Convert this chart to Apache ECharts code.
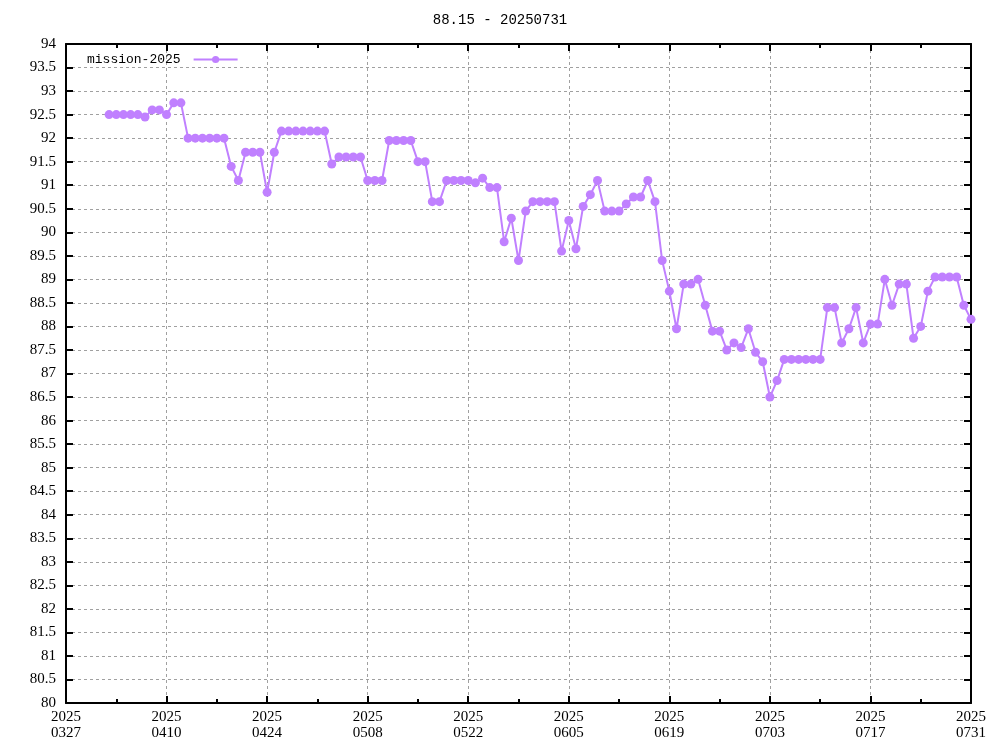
<!DOCTYPE html>
<html>
<head>
<meta charset="utf-8">
<script src="https://cdn.jsdelivr.net/npm/echarts@6/dist/echarts.min.js"></script>
<style>html,body{margin:0;padding:0;background:#fff}#c{width:1000px;height:750px}</style>
</head>
<body>
<div id="c"></div>
<script>
const titleText = '88.15 - 20250731';
const seriesName = 'mission-2025';
const axisStart = '2025-03-27';
const axisEnd = '2025-07-31';
const firstDate = '2025-04-02';
const values = [
  92.5, 92.5, 92.5, 92.5, 92.5, 92.45, 92.6, 92.6, 92.5, 92.75, 92.75,
  92.0, 92.0, 92.0, 92.0, 92.0, 92.0, 91.4, 91.1, 91.7, 91.7, 91.7, 90.85, 91.7,
  92.15, 92.15, 92.15, 92.15, 92.15, 92.15, 92.15, 91.45, 91.6, 91.6, 91.6, 91.6,
  91.1, 91.1, 91.1, 91.95, 91.95, 91.95, 91.95, 91.5, 91.5, 90.65, 90.65,
  91.1, 91.1, 91.1, 91.1, 91.05, 91.15, 90.95, 90.95, 89.8, 90.3, 89.4, 90.45,
  90.65, 90.65, 90.65, 90.65, 89.6, 90.25, 89.65, 90.55, 90.8, 91.1,
  90.45, 90.45, 90.45, 90.6, 90.75, 90.75, 91.1, 90.65, 89.4, 88.75, 87.95,
  88.9, 88.9, 89.0, 88.45, 87.9, 87.9, 87.5, 87.65, 87.55, 87.95, 87.45, 87.25,
  86.5, 86.85, 87.3, 87.3, 87.3, 87.3, 87.3, 87.3, 88.4, 88.4, 87.65, 87.95,
  88.4, 87.65, 88.05, 88.05, 89.0, 88.45, 88.9, 88.9, 87.75, 88.0, 88.75,
  89.05, 89.05, 89.05, 89.05, 88.45, 88.15
];
const yMin = 80, yMax = 94, yStep = 0.5;
const xStepDays = 14;

const DAY = 86400000;
const t0 = Date.parse(axisStart + 'T00:00:00Z');
const tEnd = Date.parse(axisEnd + 'T00:00:00Z');
const tFirst = Date.parse(firstDate + 'T00:00:00Z');
const startIdx = Math.round((tFirst - t0) / DAY);
const data = values.map((v, i) => [startIdx + i, v]);
const spanDays = Math.round((tEnd - t0) / DAY);

function dayLabel(d) {
  const dt = new Date(t0 + d * DAY);
  const y = dt.getUTCFullYear();
  const m = String(dt.getUTCMonth() + 1).padStart(2, '0');
  const dd = String(dt.getUTCDate()).padStart(2, '0');
  return y + '\n' + m + dd;
}

const tickFont = { fontFamily: 'Liberation Serif', fontSize: 15, color: '#000' };
const axisLineStyle = { show: true, onZero: false, lineStyle: { color: '#000', width: 2 } };
const gridLine = { show: true, lineStyle: { color: '#a0a0a0', width: 1, type: [3, 3] } };

const chart = echarts.init(document.getElementById('c'), null, { renderer: 'canvas' });
chart.setOption({
  backgroundColor: '#fff',
  animation: false,
  title: {
    text: titleText, left: 'center', top: 8,
    textStyle: { fontFamily: 'Liberation Mono', fontSize: 14, fontWeight: 'normal', color: '#000' }
  },
  legend: {
    left: 82, top: 48, align: 'right', itemWidth: 44, itemHeight: 9,
    textStyle: { fontFamily: 'Liberation Mono', fontSize: 13, color: '#000', padding: [0, 8, 0, 0] },
    data: [seriesName]
  },
  grid: { left: 66, right: 29, top: 44, bottom: 47, containLabel: false },
  xAxis: [{
    type: 'value', min: 0, max: spanDays, interval: xStepDays, position: 'bottom',
    axisLine: axisLineStyle,
    axisTick: { show: true, inside: true, length: 7, lineStyle: { color: '#000', width: 2 } },
    minorTick: { show: true, splitNumber: 2, length: 4, lineStyle: { color: '#000', width: 2 } },
    axisLabel: { ...tickFont, lineHeight: 16, margin: 6, formatter: v => dayLabel(v) },
    splitLine: gridLine
  }, {
    type: 'value', min: 0, max: spanDays, interval: xStepDays, position: 'top',
    axisLine: axisLineStyle,
    axisTick: { show: true, inside: true, length: 7, lineStyle: { color: '#000', width: 2 } },
    minorTick: { show: true, splitNumber: 2, length: 4, lineStyle: { color: '#000', width: 2 } },
    axisLabel: { show: false }, splitLine: { show: false }
  }],
  yAxis: [{
    type: 'value', min: yMin, max: yMax, interval: yStep, position: 'left',
    axisLine: axisLineStyle,
    axisTick: { show: true, inside: true, length: 7, lineStyle: { color: '#000', width: 2 } },
    axisLabel: { ...tickFont, margin: 10 },
    splitLine: gridLine
  }, {
    type: 'value', min: yMin, max: yMax, interval: yStep, position: 'right',
    axisLine: axisLineStyle,
    axisTick: { show: true, inside: true, length: 7, lineStyle: { color: '#000', width: 2 } },
    axisLabel: { show: false }, splitLine: { show: false }
  }],
  series: [{
    name: seriesName, type: 'line', xAxisIndex: 0, yAxisIndex: 0,
    data: data, symbol: 'circle', symbolSize: 9, showAllSymbol: true,
    lineStyle: { color: '#c080ff', width: 2 },
    itemStyle: { color: '#c080ff' }
  }]
});
</script>
</body>
</html>
